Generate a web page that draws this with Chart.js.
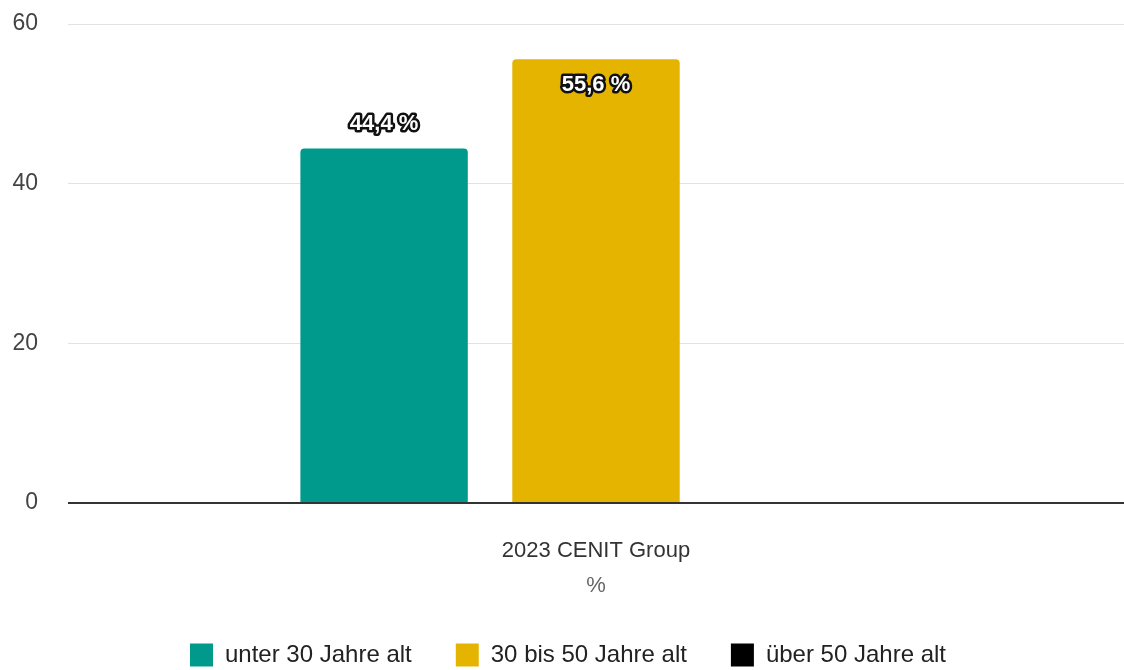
<!DOCTYPE html>
<html lang="de">
<head>
<meta charset="utf-8">
<title>Altersstruktur 2023</title>
<script src="https://cdn.jsdelivr.net/npm/chart.js@4/dist/chart.umd.min.js"></script>
<style>
  html, body { margin: 0; padding: 0; background: #fff; }
  #wrap { width: 1124px; height: 670px; position: relative; }
</style>
</head>
<body>
<div id="wrap"><canvas id="chartAlter"></canvas></div>
<script>
const kategorien = ['2023 CENIT Group'];
const gruppen = ['unter 30 Jahre alt', '30 bis 50 Jahre alt', 'über 50 Jahre alt'];
const anteile = [[44.4], [55.6], [0]];
const farben = ['#009a8c', '#e5b400', '#000000'];
const yTicks = [0, 20, 40, 60];

const schrift = 'Arial, "Liberation Sans", sans-serif';

// Prozentwerte über bzw. in den Balken schreiben
const wertLabels = {
    id: 'wertLabels',
    afterDatasetsDraw(chart) {
        const ctx = chart.ctx;
        const top = chart.chartArea.top;
        ctx.save();
        ctx.font = 'bold 22px ' + schrift;
        ctx.textAlign = 'center';
        ctx.textBaseline = 'middle';
        ctx.lineJoin = 'round';
        chart.data.datasets.forEach((ds, i) => {
            chart.getDatasetMeta(i).data.forEach((bar, j) => {
                const v = ds.data[j];
                if (!v) return;
                const txt = v.toFixed(1).replace('.', ',') + ' %';
                let y = bar.y - 25;
                if (y - 12 < top) y = bar.y + 26;
                ctx.lineWidth = 5;
                ctx.strokeStyle = '#111';
                ctx.strokeText(txt, bar.x, y);
                ctx.fillStyle = '#fff';
                ctx.fillText(txt, bar.x, y);
            });
        });
        ctx.restore();
    }
};

new Chart(document.getElementById('chartAlter'), {
    type: 'bar',
    data: {
        labels: kategorien,
        datasets: gruppen.map((g, i) => ({
            label: g,
            data: anteile[i],
            backgroundColor: farben[i],
            borderRadius: { topLeft: 4, topRight: 4 },
            borderSkipped: 'bottom',
            categoryPercentage: 0.602,
            barPercentage: 0.79
        }))
    },
    options: {
        responsive: true,
        maintainAspectRatio: false,
        animation: false,
        layout: { padding: { top: 24, right: 0, bottom: -7, left: 12 } },
        scales: {
            y: {
                min: 0,
                max: 60,
                afterBuildTicks: axis => { axis.ticks = yTicks.map(v => ({ value: v })); },
                afterFit: axis => {
                    axis.width = 56;
                    axis.paddingTop = 0;
                    axis.paddingBottom = 0;
                },
                border: { display: false },
                grid: {
                    color: c => c.tick.value === 0 ? '#333' : '#e2e2e2',
                    lineWidth: c => c.tick.value === 0 ? 2 : 1,
                    drawTicks: false
                },
                ticks: { color: '#444', font: { size: 23, family: schrift }, padding: 30 }
            },
            x: {
                afterFit: axis => {
                    axis.height = 96;
                    axis.paddingLeft = 0;
                    axis.paddingRight = 0;
                },
                border: { display: false },
                grid: { display: false },
                ticks: { color: '#333', font: { size: 22, family: schrift }, padding: 27 },
                title: { display: true, text: '%', color: '#666', font: { size: 22, family: schrift }, padding: { top: 9, bottom: 0 } }
            }
        },
        plugins: {
            legend: {
                position: 'bottom',
                labels: {
                    boxWidth: 23,
                    boxHeight: 23,
                    padding: 44,
                    color: '#222',
                    font: { size: 24, family: schrift }
                }
            },
            tooltip: { enabled: false }
        }
    },
    plugins: [wertLabels]
});
</script>
</body>
</html>
